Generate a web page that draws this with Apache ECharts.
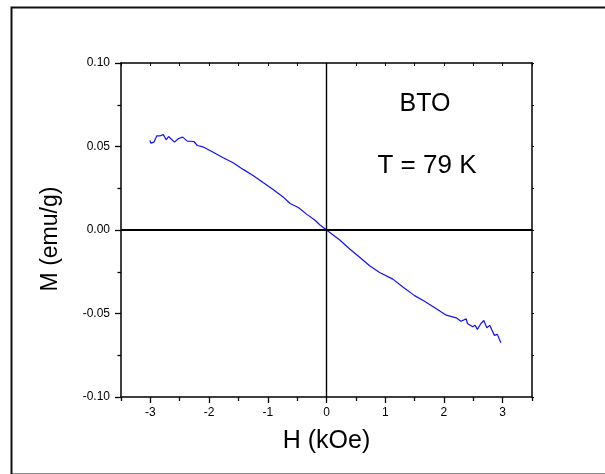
<!DOCTYPE html>
<html>
<head>
<meta charset="utf-8">
<script src="https://cdn.jsdelivr.net/npm/echarts@6/dist/echarts.min.js"></script>
<style>
html,body{margin:0;padding:0;background:#fff;}
#chart{width:605px;height:474px;}
</style>
</head>
<body>
<div id="chart"></div>
<script>
// Field H (kOe)
var fieldH = [-3.01,-2.99,-2.94,-2.92,-2.89,-2.83,-2.78,-2.73,-2.69,-2.59,-2.52,-2.45,-2.37,-2.26,-2.20,-2.09,-1.93,-1.76,-1.59,-1.42,-1.25,-1.08,-0.91,-0.74,-0.62,-0.48,-0.34,-0.20,-0.11,0,0.226,0.40,0.565,0.735,0.905,1.13,1.30,1.50,1.67,1.87,2.04,2.21,2.29,2.38,2.40,2.49,2.53,2.57,2.63,2.68,2.73,2.78,2.86,2.91,2.97];
// Magnetization M (emu/g)
var magM = [0.0536,0.052,0.0526,0.052,0.0564,0.0564,0.0571,0.054,0.056,0.0526,0.0548,0.0556,0.0532,0.053,0.0506,0.0496,0.0466,0.0433,0.0403,0.0363,0.0327,0.0284,0.0242,0.0198,0.0159,0.0135,0.0095,0.006,0.003,0,-0.006,-0.0115,-0.0163,-0.0214,-0.0254,-0.0294,-0.0341,-0.0393,-0.0427,-0.0472,-0.051,-0.0526,-0.0546,-0.0532,-0.056,-0.058,-0.0571,-0.0595,-0.056,-0.0542,-0.0585,-0.0571,-0.0631,-0.0625,-0.0675];
var xMajorTicks = [-3,-2,-1,0,1,2,3];
var xMinorTicks = [-3.5,-2.5,-1.5,-0.5,0.5,1.5,2.5,3.5];
var xAllTicks = [-3.5,-3,-2.5,-2,-1.5,-1,-0.5,0,0.5,1,1.5,2,2.5,3,3.5];
var yMajorTicks = [-0.1,-0.05,0,0.05,0.1];
var yMinorTicks = [-0.075,-0.025,0.025,0.075];
var yAllTicks = [-0.1,-0.075,-0.05,-0.025,0,0.025,0.05,0.075,0.1];
var annotations = ['BTO','T = 79 K'];

var FONT = 'Liberation Sans, Arial, sans-serif';
var data = fieldH.map(function(h,i){return [h, magM[i]];});
var chart = echarts.init(document.getElementById('chart'), null, {renderer:'canvas'});
var lineAxis = {show:true, onZero:false, lineStyle:{color:'#000', width:1.5}};
var noLine = {show:false, onZero:false};
chart.setOption({
  animation:false,
  backgroundColor:'#fff',
  grid:{left:121, right:73, top:63, bottom:77},
  xAxis:[
    {type:'value', position:'bottom', min:-3.5, max:3.5,
     axisLine:lineAxis, splitLine:{show:false},
     axisTick:{show:true, inside:false, length:6, customValues:xMajorTicks, lineStyle:{color:'#000', width:1.3}},
     axisLabel:{show:true, customValues:xMajorTicks, margin:10, color:'#000', fontSize:12, fontFamily:FONT,
       formatter:function(v){return String(Math.round(v));}},
     name:'H (kOe)', nameLocation:'middle', nameGap:32,
     nameTextStyle:{fontSize:25, color:'#000', fontFamily:FONT}},
    {type:'value', position:'bottom', min:-3.5, max:3.5,
     axisLine:noLine, splitLine:{show:false},
     axisTick:{show:true, inside:false, length:4, customValues:xMinorTicks, lineStyle:{color:'#000', width:1.3}},
     axisLabel:{show:false}},
    {type:'value', position:'top', min:-3.5, max:3.5,
     axisLine:lineAxis, splitLine:{show:false},
     axisTick:{show:true, inside:true, length:3, customValues:xAllTicks, lineStyle:{color:'#000', width:1}},
     axisLabel:{show:false}}
  ],
  yAxis:[
    {type:'value', position:'left', min:-0.1, max:0.1,
     axisLine:lineAxis, splitLine:{show:false},
     axisTick:{show:true, inside:false, length:6, customValues:yMajorTicks, lineStyle:{color:'#000', width:1.3}},
     axisLabel:{show:true, customValues:yMajorTicks, margin:11, color:'#000', fontSize:12, fontFamily:FONT,
       formatter:function(v){return v.toFixed(2);}},
     name:'M (emu/g)', nameLocation:'middle', nameGap:59, nameRotate:90,
     nameTextStyle:{fontSize:23, color:'#000', fontFamily:FONT, padding:[0,18,0,0]}},
    {type:'value', position:'left', min:-0.1, max:0.1,
     axisLine:noLine, splitLine:{show:false},
     axisTick:{show:true, inside:false, length:3.5, customValues:yMinorTicks, lineStyle:{color:'#000', width:1.3}},
     axisLabel:{show:false}},
    {type:'value', position:'right', min:-0.1, max:0.1,
     axisLine:lineAxis, splitLine:{show:false},
     axisTick:{show:true, inside:false, length:2, customValues:yAllTicks, lineStyle:{color:'#000', width:1}},
     axisLabel:{show:false}}
  ],
  series:[{
    type:'line', xAxisIndex:0, yAxisIndex:0, data:data,
    showSymbol:false, symbol:'none',
    lineStyle:{color:'#1010ff', width:1.2}, itemStyle:{color:'#1010ff'},
    z:3,
    markLine:{
      silent:true, symbol:['none','none'], label:{show:false}, animation:false,
      data:[
        {xAxis:0, lineStyle:{color:'#000', width:1.4, type:'solid'}},
        {yAxis:0, lineStyle:{color:'#000', width:2, type:'solid'}}
      ]
    }
  }],
  graphic:[
    {type:'rect', left:9, top:5, shape:{x:0, y:0, width:640, height:467},
     style:{fill:'none', stroke:'#111', lineWidth:2}, silent:true},
    {type:'text', x:425, y:104, style:{text:annotations[0], fontSize:25, fontFamily:FONT, fill:'#000', align:'center', verticalAlign:'middle'}},
    {type:'text', x:427, y:166, style:{text:annotations[1], fontSize:26, fontFamily:FONT, fill:'#000', align:'center', verticalAlign:'middle'}}
  ]
});
</script>
</body>
</html>
